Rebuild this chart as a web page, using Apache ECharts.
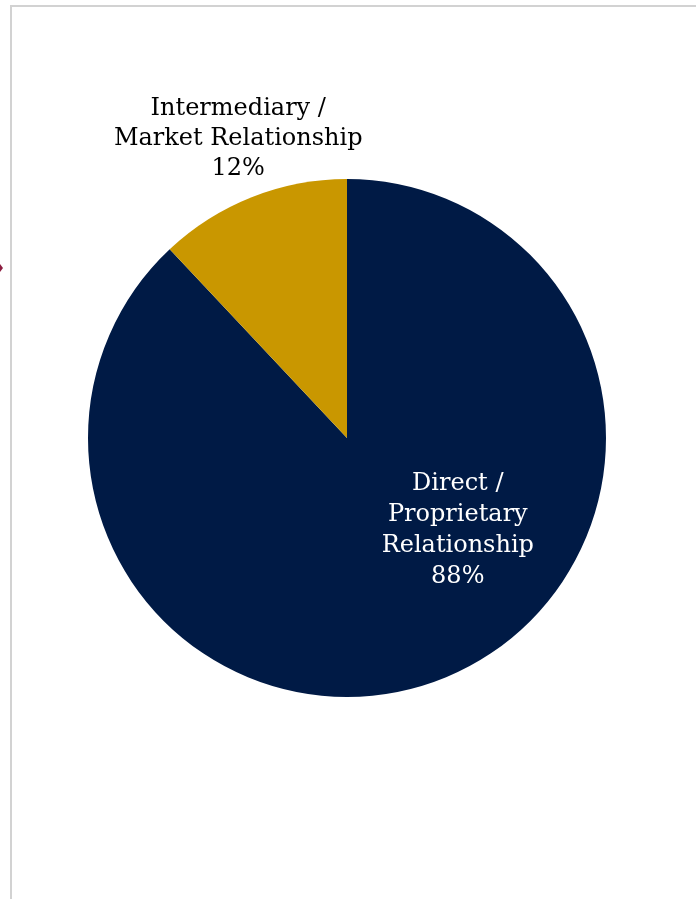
<!DOCTYPE html>
<html>
<head>
<meta charset="utf-8">
<script src="https://cdn.jsdelivr.net/npm/echarts@6/dist/echarts.min.js"></script>
<style>
  html, body { margin: 0; padding: 0; background: #fff; }
  #container { width: 696px; height: 899px; }
</style>
</head>
<body>
<div id="container"></div>
<script>
// data
var categories = ['Direct /\nProprietary\nRelationship', 'Intermediary /\nMarket Relationship'];
var shares = [88, 12];
var colors = ['#001a45', '#c99700'];

var myChart = echarts.init(document.getElementById('container'));

var pieData = [];
for (var i = 0; i < categories.length; i++) {
    pieData.push({ name: categories[i], value: shares[i], itemStyle: { color: colors[i] } });
}

// label placement per slice
pieData[0].label = { color: '#ffffff', offset: [62, -31], lineHeight: 31 };
pieData[1].label = { color: '#000000', offset: [-60, -176], lineHeight: 30 };

var option = {
    backgroundColor: '#ffffff',
    animation: false,
    graphic: [
        { type: 'line', shape: { x1: 10, y1: 6, x2: 696, y2: 6 }, style: { stroke: '#d2d2d2', lineWidth: 2 } },
        { type: 'line', shape: { x1: 11, y1: 5, x2: 11, y2: 899 }, style: { stroke: '#d2d2d2', lineWidth: 2 } },
        { type: 'polygon', shape: { points: [[0, 264], [3, 268], [0, 272]] }, style: { fill: '#8c1d40' } }
    ],
    series: [
        {
            type: 'pie',
            center: [347, 438],
            radius: 259,
            startAngle: 90,
            clockwise: true,
            data: pieData,
            label: {
                show: true,
                position: 'inside',
                fontFamily: 'DejaVu Serif',
                fontSize: 24,
                align: 'center',
                formatter: function (p) {
                    return p.name + '\n' + p.value + '%';
                }
            },
            labelLine: { show: false },
            emphasis: { disabled: true }
        }
    ]
};

myChart.setOption(option, true);
</script>
</body>
</html>
